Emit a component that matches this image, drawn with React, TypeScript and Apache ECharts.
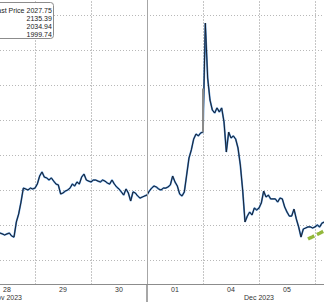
import React, { useEffect, useRef } from "react";
import * as echarts from "echarts";

// Trading days shown (intraday, hourly samples)
const days = ["2023-11-28", "2023-11-29", "2023-11-30", "2023-12-01", "2023-12-04", "2023-12-05", "2023-12-06"];
const hours = ["00", "01", "02", "03", "04", "05", "06", "07", "08", "09", "10", "11", "12", "13", "14", "15", "16", "17", "18", "19", "20", "21", "22", "23"];

// XAU price, hourly (null = no data in view)
const nov28 = [null, null, null, null, null, null, null, null, 2014.9, 2015.4, 2014.9, 2014.3, 2014.9, 2015.4, 2013.7, 2013.1, 2021.7, 2026.3, 2033.1, 2041.1, 2040.6, 2040.0, 2041.1, 2040.6];
const nov29 = [2041.1, 2043.4, 2048.0, 2050.3, 2047.4, 2046.9, 2045.7, 2046.9, 2045.1, 2043.4, 2042.9, 2037.7, 2038.3, 2039.4, 2040.0, 2041.1, 2043.4, 2042.3, 2044.6, 2043.4, 2047.4, 2049.1, 2045.7, 2045.1];
const nov30 = [2044.6, 2045.7, 2045.7, 2045.1, 2044.6, 2045.7, 2045.1, 2044.0, 2043.4, 2045.7, 2043.4, 2041.7, 2040.6, 2038.9, 2037.1, 2040.6, 2038.3, 2033.7, 2038.9, 2038.3, 2036.6, 2035.4, 2036.0, 2036.6];
const dec01 = [2037.1, 2039.4, 2041.1, 2042.3, 2041.7, 2040.6, 2040.0, 2041.1, 2041.1, 2041.7, 2042.9, 2048.0, 2044.6, 2042.3, 2037.7, 2036.6, 2038.9, 2048.6, 2058.3, 2062.9, 2069.1, 2072.0, 2070.9, 2072.6];
const dec04 = [2073.1, 2135.4, 2104.0, 2091.4, 2085.7, 2084.0, 2086.9, 2084.6, 2086.9, 2078.9, 2061.7, 2073.1, 2069.7, 2070.9, 2069.1, 2064.0, 2054.3, 2040.0, 2021.7, 2025.1, 2027.4, 2025.7, 2029.7, 2028.6];
const dec05 = [2029.7, 2032.6, 2039.4, 2036.0, 2037.1, 2034.9, 2034.9, 2034.9, 2033.1, 2035.4, 2034.9, 2030.3, 2027.4, 2025.1, 2025.1, 2029.1, 2023.4, 2018.9, 2013.1, 2017.7, 2018.3, 2018.9, 2018.9, 2018.3];
const dec06 = [2018.9, 2020.0, 2018.9, 2021.1, 2021.7, 2022.3];

// green dashed trend line
const trendDec05 = [2012.0, 2012.7, 2013.3]; // from 21:00
const trendDec06 = [2014.0, 2014.7, 2015.3, 2016.0, 2016.7, 2017.3];

// legend stats
const legendLabel = "Last Price";
const legendValues = ["2027.75", "2135.39", "2034.94", "1999.74"];

const months = { "2023-11": "Nov 2023", "2023-12": "Dec 2023" };

const FONT = "Liberation Sans";

export default function App() {
  const ref = useRef<HTMLDivElement>(null);

  useEffect(() => {
    if (!ref.current) return;
    const chart = echarts.init(ref.current, undefined, { renderer: "svg" });

    const cats: string[] = [];
    days.forEach((d) => hours.forEach((h) => cats.push(d + " " + h + ":00")));
    cats.push("2023-12-07 00:00");
    const total = cats.length;

    const price: (number | null)[] = [...nov28, ...nov29, ...nov30, ...dec01, ...dec04, ...dec05, ...dec06];
    while (price.length < total) price.push(null);

    const trend: (number | null)[] = [];
    while (trend.length < 5 * 24 + 21) trend.push(null);
    trend.push(...trendDec05, ...trendDec06);
    while (trend.length < total) trend.push(null);

    const sepIdx = cats.indexOf("2023-12-01 00:00");
    const novIdx = cats.indexOf("2023-11-28 12:00");
    const decIdx = cats.indexOf("2023-12-05 00:00");
    const lastLabelIdx = cats.indexOf("2023-12-06 00:00");

    const valX = 111.8;
    const legendTexts = legendValues.map((v, i) => ({
      type: "text",
      x: valX,
      y: 30.8 + i * 8,
      z: 11,
      style: { text: v, align: "right", verticalAlign: "middle", fontSize: 7, fontFamily: FONT, fill: "#222" },
    }));

    chart.setOption({
      animation: false,
      backgroundColor: "#fff",
      grid: { left: 39, right: 50, top: 0, bottom: 18, containLabel: false },
      xAxis: [
        {
          type: "category",
          data: cats,
          boundaryGap: false,
          position: "bottom",
          axisLine: { show: true, lineStyle: { color: "#8c8c8c", width: 1 } },
          axisTick: {
            show: true,
            interval: (i: number) => i === sepIdx,
            length: 18,
            lineStyle: { color: "#8a8a8a", width: 1.5 },
          },
          axisLabel: {
            interval: (i: number) => i % 24 === 12 && i < lastLabelIdx,
            formatter: (v: string) => v.slice(8, 10),
            fontSize: 7,
            fontFamily: FONT,
            color: "#333",
            margin: 2,
          },
          splitLine: {
            show: true,
            interval: (i: number) => i % 24 === 0,
            lineStyle: { color: "#c6c6c6", type: [2, 1], width: 1 },
          },
        },
        {
          type: "category",
          data: cats,
          boundaryGap: false,
          position: "bottom",
          offset: 0,
          axisLine: { show: false },
          axisTick: { show: false },
          splitLine: { show: false },
          axisLabel: {
            interval: (i: number) => i === novIdx || i === decIdx,
            formatter: (v: string) => (months as any)[v.slice(0, 7)] || "",
            fontSize: 7,
            fontFamily: FONT,
            color: "#333",
            margin: 10,
          },
        },
      ],
      yAxis: {
        type: "value",
        position: "right",
        min: 1986.29,
        max: 2160,
        splitNumber: 9,
        minInterval: 20,
        maxInterval: 20,
        axisLine: { show: false },
        axisTick: { show: false },
        axisLabel: { show: false },
        splitLine: {
          show: true,
          showMinLine: false,
          lineStyle: { color: "#b8b8b8", type: [1, 2], width: 1 },
        },
      },
      series: [
        {
          type: "line",
          data: price,
          showSymbol: false,
          lineStyle: { color: "#4a8ad0", width: 1.8 },
          markLine: {
            silent: true,
            symbol: "none",
            label: { show: false },
            data: [
              { xAxis: cats[sepIdx], lineStyle: { color: "#a6a6a6", type: "solid", width: 1 } },
              [
                { coord: ["2023-12-04 00:00", 2073], lineStyle: { color: "#8a8a8a", type: "solid", width: 2 } },
                { coord: ["2023-12-04 00:00", 2098] },
              ],
            ],
          },
        },
        {
          type: "line",
          data: price,
          showSymbol: false,
          lineStyle: { color: "#1a2230", width: 1 },
        },
        {
          type: "line",
          data: trend,
          showSymbol: false,
          lineStyle: { color: "#93b83c", width: 3.5, type: [7, 3] },
        },
      ],
      graphic: [
        {
          type: "rect",
          shape: { x: 20, y: 22.5, width: 93.5, height: 36, r: 3 },
          style: { fill: "#fff", stroke: "#8c8c8c", lineWidth: 1 },
          z: 10,
        },
        {
          type: "text",
          x: 84.5,
          y: 30.8,
          z: 11,
          style: { text: legendLabel, align: "right", verticalAlign: "middle", fontSize: 7, fontFamily: FONT, fill: "#222" },
        },
        ...legendTexts,
      ],
    });

    return () => chart.dispose();
  }, []);

  return (
    <div style={{ position: "fixed", left: 0, top: 0, width: 324, height: 302, overflow: "hidden", background: "#fff" }}>
      <div ref={ref} style={{ position: "absolute", left: -60, top: -20, width: 481, height: 322 }} />
    </div>
  );
}
